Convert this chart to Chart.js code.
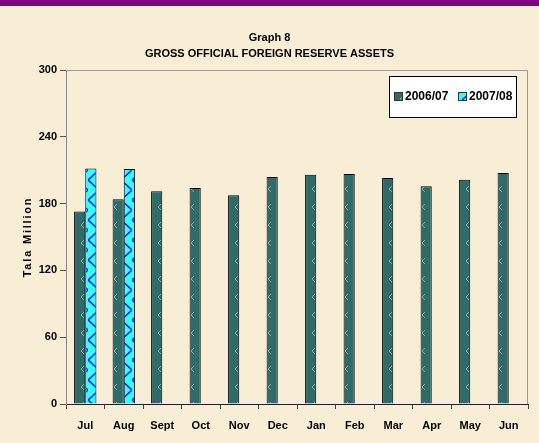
<!DOCTYPE html>
<html>
<head>
<meta charset="utf-8">
<script src="https://cdn.jsdelivr.net/npm/chart.js@4.4.0/dist/chart.umd.min.js"></script>
<style>
    html, body { margin: 0; padding: 0; background: #f8eed5; }
    #wrap { width: 539px; height: 443px; position: relative; }
</style>
</head>
<body>
<div id="wrap"><canvas id="js--chart"></canvas></div>
<script>
// months of the fiscal year
const months = ['Jul', 'Aug', 'Sept', 'Oct', 'Nov', 'Dec', 'Jan', 'Feb', 'Mar', 'Apr', 'May', 'Jun'];
// Tala million
const reserves0607 = [173, 184, 191, 194, 187.5, 204, 206, 206.5, 203, 195.5, 201.5, 207.5];
const reserves0708 = [211.5, 211, null, null, null, null, null, null, null, null, null, null];
const seriesNames = ['2006/07', '2007/08'];
const yTicks = [0, 60, 120, 180, 240, 300];

function makePattern(w, h, draw) {
    const c = document.createElement('canvas');
    c.width = w;
    c.height = h;
    const g = c.getContext('2d');
    draw(g);
    return g.createPattern(c, 'repeat');
}

const canvas = document.getElementById('js--chart');

const tealFill = makePattern(11, 18, function (g) {
    g.fillStyle = '#2f6b68';
    g.fillRect(0, 0, 11, 18);
    g.strokeStyle = '#8fa9a5';
    g.lineWidth = 1;
    g.beginPath();
    g.moveTo(7, 6);
    g.lineTo(4, 9);
    g.lineTo(7, 12);
    g.stroke();
});

const cyanFill = makePattern(11, 20, function (g) {
    g.fillStyle = '#3ff';
    g.fillRect(0, 0, 11, 20);
    g.strokeStyle = '#1a1aff';
    g.lineWidth = 1.6;
    g.beginPath();
    g.moveTo(0, 0);
    g.lineTo(11, 10);
    g.lineTo(0, 20);
    g.stroke();
});

const pageBackground = {
    id: 'pageBackground',
    beforeDraw(chart) {
        const c = chart.ctx;
        c.save();
        c.fillStyle = '#f8eed5';
        c.fillRect(0, 0, chart.width, chart.height);
        c.fillStyle = '#800080';
        c.fillRect(0, 0, chart.width, 6);
        c.restore();
    },
    afterDraw(chart) {
        const c = chart.ctx;
        const a = chart.chartArea;
        c.save();
        // top and right frame of the plot
        c.strokeStyle = '#9a9a9a';
        c.lineWidth = 1;
        c.beginPath();
        c.moveTo(a.left, a.top + 0.5);
        c.lineTo(a.right - 0.5, a.top + 0.5);
        c.lineTo(a.right - 0.5, a.bottom);
        c.stroke();

        // y axis title
        c.font = 'bold 11px "Liberation Sans", Arial, sans-serif';
        c.fillStyle = '#000';
        c.textAlign = 'center';
        c.textBaseline = 'middle';
        c.letterSpacing = '1.8px';
        c.translate(28, (a.top + a.bottom) / 2);
        c.rotate(-Math.PI / 2);
        c.fillText('Tala Million', 0, 0);
        c.restore();

        // legend box
        const x = a.right - 139, y = a.top + 6, w = 127, h = 41;
        c.save();
        c.fillStyle = '#fff';
        c.fillRect(x, y, w, h);
        c.strokeStyle = '#000';
        c.lineWidth = 1;
        c.strokeRect(x + 0.5, y + 0.5, w, h);
        c.font = 'bold 12px "Liberation Sans", Arial, sans-serif';
        c.textBaseline = 'middle';
        c.fillStyle = '#000';
        const itemX = [x + 5, x + 69];
        chart.data.datasets.forEach(function (ds, i) {
            c.fillStyle = ds.backgroundColor;
            c.fillRect(itemX[i], y + 16, 8, 8);
            c.strokeStyle = '#333';
            c.strokeRect(itemX[i] + 0.5, y + 16.5, 8, 8);
            c.fillStyle = '#000';
            c.fillText(ds.label, itemX[i] + 11, y + 21);
        });
        c.restore();
    }
};

new Chart(canvas, {
    type: 'bar',
    data: {
        labels: months,
        datasets: [{
            label: seriesNames[0],
            data: reserves0607,
            backgroundColor: tealFill,
            borderColor: '#000',
            borderWidth: 1,
            categoryPercentage: 0.58,
            barPercentage: 1
        }, {
            label: seriesNames[1],
            data: reserves0708,
            backgroundColor: cyanFill,
            borderColor: '#000',
            borderWidth: 1,
            categoryPercentage: 0.58,
            barPercentage: 1
        }]
    },
    options: {
        responsive: true,
        maintainAspectRatio: false,
        animation: false,
        layout: { padding: 0 },
        plugins: {
            legend: { display: false },
            tooltip: { enabled: false },
            title: {
                display: true,
                text: ['Graph 8', 'GROSS OFFICIAL FOREIGN RESERVE ASSETS'],
                color: '#000',
                font: { family: '"Liberation Sans", Arial, sans-serif', size: 11, weight: 'bold', lineHeight: 16 / 11 },
                padding: { top: 30, bottom: 8 }
            }
        },
        scales: {
            x: {
                grid: { display: true, drawOnChartArea: false, offset: true, tickLength: 5, color: '#444' },
                border: { display: true, color: '#222' },
                ticks: {
                    color: '#000',
                    padding: 10,
                    maxRotation: 0,
                    font: { family: '"Liberation Sans", Arial, sans-serif', size: 11, weight: 'bold' }
                },
                afterFit: function (scale) { scale.height = 39; }
            },
            y: {
                min: 0,
                max: 300,
                afterBuildTicks: function (scale) {
                    scale.ticks = yTicks.map(function (v) { return { value: v }; });
                },
                grid: { display: true, drawOnChartArea: false, tickLength: 6, color: '#555' },
                border: { display: true, color: '#888' },
                ticks: {
                    color: '#000',
                    padding: 3,
                    font: { family: '"Liberation Sans", Arial, sans-serif', size: 11, weight: 'bold' }
                },
                afterFit: function (scale) { scale.width = 66; }
            },
            y2: {
                position: 'right',
                display: true,
                grid: { display: false },
                border: { display: false },
                ticks: { display: false },
                afterFit: function (scale) { scale.width = 11; }
            }
        }
    },
    plugins: [pageBackground]
});
</script>
</body>
</html>
